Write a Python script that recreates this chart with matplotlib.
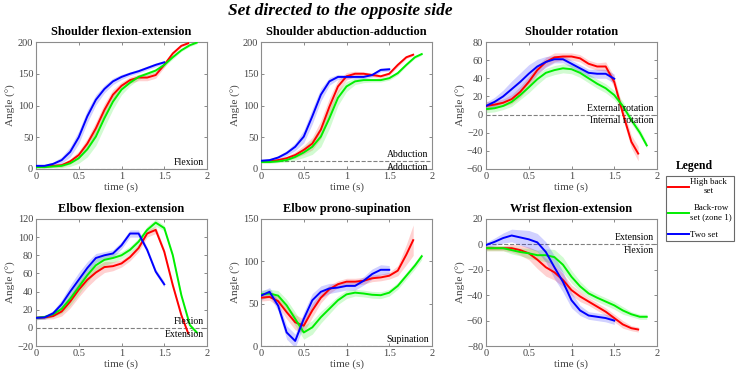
import numpy as np
import matplotlib
matplotlib.use('Agg')
import matplotlib.pyplot as plt

plt.rcParams['font.family'] = ['Liberation Serif', 'DejaVu Serif']

# --tiempos (s) de cada serie
t_red = [0, 0.1, 0.2, 0.3, 0.4, 0.5, 0.6, 0.7, 0.8, 0.9, 1.0, 1.1, 1.2, 1.3, 1.4, 1.5, 1.6, 1.7, 1.78]
t_green = [0, 0.1, 0.2, 0.3, 0.4, 0.5, 0.6, 0.7, 0.8, 0.9, 1.0, 1.1, 1.2, 1.3, 1.4, 1.5, 1.6, 1.7, 1.8, 1.88]
t_blue = [0, 0.1, 0.2, 0.3, 0.4, 0.5, 0.6, 0.7, 0.8, 0.9, 1.0, 1.1, 1.2, 1.3, 1.4, 1.5]

# --shoulder flexion-extension
sfe_red = [4, 4, 5, 6, 12, 22, 40, 64, 93, 117, 131, 140, 144, 144, 148, 164, 182, 194, 198]
sfe_red_sd = [2, 2, 2, 3, 4, 6, 8, 10, 10, 8, 6, 5, 5, 5, 5, 4, 3, 2, 2]
sfe_green = [3, 3, 4, 5, 9, 17, 31, 51, 80, 106, 125, 136, 145, 150, 155, 164, 176, 187, 195, 199]
sfe_green_sd = [2, 2, 2, 3, 5, 8, 12, 14, 14, 12, 8, 5, 4, 3, 3, 3, 3, 2, 2, 2]
sfe_blue = [5, 5, 8, 14, 27, 50, 83, 109, 126, 138, 145, 150, 154, 159, 164, 168]
sfe_blue_sd = [2, 2, 3, 5, 8, 10, 10, 8, 6, 5, 4, 3, 3, 3, 3, 3]

# --shoulder abduction-adduction
saa_red = [12, 12, 14, 17, 22, 30, 40, 62, 98, 130, 146, 150, 150, 148, 146, 150, 164, 176, 180]
saa_red_sd = [2, 2, 2, 3, 5, 7, 10, 14, 14, 10, 6, 4, 3, 3, 3, 3, 3, 2, 2]
saa_green = [11, 11, 12, 14, 19, 26, 35, 51, 80, 112, 130, 138, 140, 140, 140, 143, 151, 164, 176, 181]
saa_green_sd = [2, 2, 2, 3, 5, 8, 12, 16, 16, 12, 8, 5, 4, 3, 3, 3, 3, 2, 2, 2]
saa_blue = [13, 14, 18, 25, 35, 51, 83, 117, 138, 145, 145, 145, 145, 148, 156, 157]
saa_blue_sd = [2, 2, 3, 4, 6, 10, 12, 10, 6, 4, 3, 3, 3, 3, 3, 3]

# --shoulder rotation
sr_red = [9.5, 11, 13, 17, 25, 36, 49, 58, 63, 64, 64, 62, 56, 53, 53, 36, 1.5, -30, -43]
sr_red_sd = [5, 4, 4, 5, 6, 6, 5, 5, 5, 4, 4, 4, 4, 4, 5, 6, 6, 7, 8]
sr_green = [6, 7, 9.5, 14, 21.5, 30, 39, 46, 49, 51, 50, 46, 40, 34, 29, 21.5, 9.5, -6, -20, -34]
sr_green_sd = [4, 4, 4, 5, 5, 6, 6, 5, 5, 5, 5, 5, 5, 5, 5, 5, 5, 4, 4, 3]
sr_blue = [9.5, 14, 20, 28, 36, 45, 53, 58, 61, 61, 56, 51, 46, 45, 45, 39.5]
sr_blue_sd = [4, 5, 7, 9, 10, 10, 8, 6, 4, 4, 4, 4, 4, 5, 5, 5]

# --elbow flexion-extension
efe_red = [11, 11.5, 13, 18, 29, 42, 53, 61, 67, 68, 71, 78, 88, 104, 108, 84, 47, 14, -6]
efe_red_sd = [2, 2, 3, 5, 7, 8, 8, 7, 6, 5, 4, 4, 4, 4, 4, 3, 3, 2, 2]
efe_green = [11, 12, 15, 21, 32, 45, 58, 69, 75, 77, 80, 86, 95, 108, 116, 110, 80, 36, 3, -5]
efe_green_sd = [2, 2, 3, 5, 7, 8, 8, 7, 6, 5, 4, 4, 4, 4, 4, 3, 3, 2, 2, 2]
efe_blue = [11, 11.5, 16, 26, 40, 53, 66, 77, 80, 82, 91, 104, 104, 86, 62, 48]
efe_blue_sd = [2, 2, 3, 5, 7, 8, 7, 5, 4, 4, 4, 4, 4, 3, 3, 3]

# --elbow prono-supination
eps_red = [57, 58, 53, 40, 28, 24, 42, 57, 67, 73, 76, 76, 77, 80, 81, 83, 89, 108, 125]
eps_red_sd = [4, 4, 6, 8, 9, 8, 8, 6, 5, 4, 4, 4, 4, 4, 4, 4, 6, 12, 18]
eps_green = [61, 62, 59.5, 48, 32, 16, 22, 34, 44, 54, 61, 63, 62, 60.5, 60, 63, 71, 83, 95, 106]
eps_green_sd = [5, 5, 6, 7, 8, 8, 8, 7, 6, 5, 5, 4, 4, 4, 4, 4, 4, 4, 4, 4]
eps_blue = [59.5, 64, 47.6, 16, 6, 32, 54, 64, 68, 69, 71, 71, 77, 85, 90, 90]
eps_blue_sd = [5, 5, 6, 8, 8, 8, 8, 7, 6, 5, 5, 5, 5, 6, 6, 5]

# --wrist flexion-extension
wfe_red = [-3, -3, -3, -3, -4.5, -7, -12, -18, -22, -28, -36, -41, -45, -49, -53, -58, -63, -66, -67]
wfe_red_sd = [2, 2, 2, 3, 4, 5, 7, 7, 6, 5, 4, 4, 3, 3, 3, 3, 3, 2, 2]
wfe_green = [-3, -3, -3, -4.5, -6, -7, -8.5, -8.5, -10, -16, -25.5, -33, -38.6, -42, -45, -48, -52, -55, -57, -57]
wfe_green_sd = [2, 2, 2, 3, 3, 4, 4, 5, 6, 6, 5, 4, 3, 3, 3, 3, 3, 2, 2, 2]
wfe_blue = [-0.5, 2, 5, 7, 5.5, 4, 1.6, -6, -18, -29.5, -44, -52, -56, -57, -58, -60]
wfe_blue_sd = [2, 3, 4, 5, 6, 7, 7, 8, 9, 8, 6, 4, 3, 3, 3, 3]

titles = ['Shoulder flexion-extension', 'Shoulder abduction-adduction', 'Shoulder rotation',
          'Elbow flexion-extension', 'Elbow prono-supination', 'Wrist flexion-extension']
labels = ['High back\nset', 'Back-row\nset (zone 1)', 'Two set']
xticks = [0, 0.5, 1, 1.5, 2]
xticklabels = ['0', '0.5', '1', '1.5', '2']

data = [
    [(sfe_red, sfe_red_sd), (sfe_green, sfe_green_sd), (sfe_blue, sfe_blue_sd)],
    [(saa_red, saa_red_sd), (saa_green, saa_green_sd), (saa_blue, saa_blue_sd)],
    [(sr_red, sr_red_sd), (sr_green, sr_green_sd), (sr_blue, sr_blue_sd)],
    [(efe_red, efe_red_sd), (efe_green, efe_green_sd), (efe_blue, efe_blue_sd)],
    [(eps_red, eps_red_sd), (eps_green, eps_green_sd), (eps_blue, eps_blue_sd)],
    [(wfe_red, wfe_red_sd), (wfe_green, wfe_green_sd), (wfe_blue, wfe_blue_sd)],
]
ylims = [(0, 200), (0, 200), (-60, 80), (-20, 120), (0, 150), (-80, 20)]
ysteps = [50, 50, 20, 20, 50, 20]
# linea de referencia y textos (arriba, abajo)
refs = [0, 12, 0, 0, 0, 0]
notes = [('Flexion', None), ('Abduction', 'Adduction'), ('External rotation', 'Internal rotation'),
         ('Flexion', 'Extension'), ('Supination', None), ('Extension', 'Flexion')]

times = [t_red, t_green, t_blue]
colors = ['#ff0000', '#00ee00', '#0000ff']
W, H = 736, 375
lefts = [36, 261, 486]
tops = [42, 219]

fig = plt.figure(figsize=(W / 100, H / 100), dpi=100)
handles = []
for i in range(6):
    r, c = divmod(i, 3)
    ax = fig.add_axes([lefts[c] / W, 1 - (tops[r] + 127) / H, 171 / W, 127 / H])
    y0, y1 = ylims[i]
    ax.axhline(refs[i], color='#808080', ls='--', lw=0.8, zorder=1)
    for k in range(3):
        t = np.array(times[k])
        y = np.array(data[i][k][0])
        sd = np.array(data[i][k][1])
        ax.fill_between(t, y - sd, y + sd, color=colors[k], alpha=0.18, lw=0, zorder=2)
        ln, = ax.plot(t, y, color=colors[k], lw=1.4, zorder=3)
        if i == 0:
            handles.append(ln)
    ax.set_xlim(0, 2)
    ax.set_ylim(y0, y1)
    ax.set_xticks(xticks)
    ax.set_xticklabels(xticklabels)
    ax.set_yticks(np.arange(y0, y1 + 1, ysteps[i]))
    ax.tick_params(direction='in', top=True, right=True, length=2.5, width=0.6,
                   color='#777777', labelcolor='#444444', labelsize=7.5, pad=2)
    for s in ax.spines.values():
        s.set_color('#8c8c8c')
        s.set_linewidth(0.8)
    ax.set_title(titles[i], fontsize=8.8, fontweight='bold', pad=5)
    ax.set_xlabel('time (s)', fontsize=8, color='#444444', labelpad=1)
    ax.set_ylabel('Angle (°)', fontsize=8, color='#444444', labelpad=1)
    up, down = notes[i]
    off = (y1 - y0) * 0.015
    ax.text(1.96, refs[i] + off, up, ha='right', va='bottom', fontsize=7, zorder=4)
    if down:
        ax.text(1.96, refs[i] - off, down, ha='right', va='top', fontsize=7, zorder=4)

fig.text(340 / W, 1 - 11 / H, 'Set directed to the opposite side', ha='center', va='center',
         fontsize=12.5, fontweight='bold', fontstyle='italic')
fig.text(694 / W, 1 - 166 / H, 'Legend', ha='center', va='center', fontsize=8.5, fontweight='bold')
leg = fig.legend(handles, labels, loc='upper left', bbox_to_anchor=(666 / W, 1 - 176 / H),
                 fontsize=6.4, handlelength=2.3, handletextpad=0.2, fancybox=False,
                 edgecolor='#444444', borderaxespad=0, borderpad=0.25, labelspacing=1.0)
leg.get_frame().set_linewidth(0.8)
for txt in leg.get_texts():
    txt.set_multialignment('center')

fig.savefig('out.png', dpi=100)
